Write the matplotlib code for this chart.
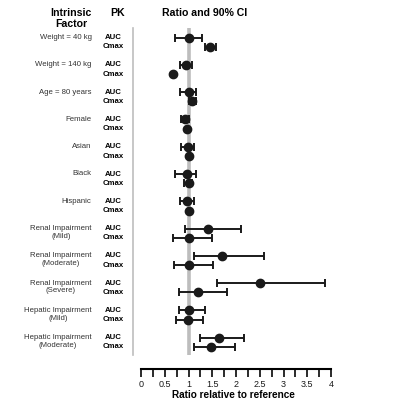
import matplotlib
matplotlib.use("Agg")
import matplotlib.pyplot as plt
from matplotlib.transforms import blended_transform_factory
import numpy as np

plt.rcParams['font.family'] = ['Liberation Sans', 'DejaVu Sans']

factors = ["Weight = 40 kg", "Weight = 140 kg", "Age = 80 years", "Female",
           "Asian", "Black", "Hispanic", "Renal Impairment\n(Mild)",
           "Renal Impairment\n(Moderate)", "Renal Impairment\n(Severe)",
           "Hepatic Impairment\n(Mild)", "Hepatic Impairment\n(Moderate)"]

auc_ratio = [1.00, 0.95, 1.00, 0.93, 0.98, 0.97, 0.97, 1.40, 1.71, 2.50, 1.02, 1.64]
auc_lo = [0.72, 0.83, 0.83, 0.84, 0.84, 0.72, 0.83, 0.93, 1.12, 1.60, 0.79, 1.25]
auc_hi = [1.29, 1.08, 1.16, 1.00, 1.12, 1.15, 1.11, 2.11, 2.58, 3.87, 1.35, 2.17]

cmax_ratio = [1.46, 0.67, 1.07, 0.97, 1.00, 1.00, 1.00, 1.00, 1.02, 1.19, 0.99, 1.48]
cmax_lo = [1.35, None, 1.01, None, None, 0.91, None, 0.67, 0.69, 0.79, 0.74, 1.11]
cmax_hi = [1.57, None, 1.16, None, None, 1.08, None, 1.49, 1.52, 1.82, 1.31, 1.97]

fig = plt.figure(figsize=(4.0, 4.05), dpi=100)
ax = fig.add_axes([0.33175, 0.0889, 0.50175, 0.842])
ax.set_xlim(-0.175, 4.05)
ax.set_ylim(12.15, -0.356)

off = 0.34
ypos_auc = np.arange(len(factors))
ypos_cmax = ypos_auc + off

# reference line at 1
ax.plot([1, 1], [-0.356, 11.64], color="#bdbdbd", lw=2.6, zorder=1, solid_capstyle="butt")

def draw(y, r, lo, hi):
    if lo is not None:
        ax.errorbar([r], [y], xerr=[[r - lo], [hi - r]], fmt="none",
                    ecolor="#1a1a1a", elinewidth=1.4, capsize=2.6, capthick=1.4, zorder=2)
    ax.plot([r], [y], "o", color="#1a1a1a", ms=6, zorder=3)

for i in range(len(factors)):
    draw(ypos_auc[i], auc_ratio[i], auc_lo[i], auc_hi[i])
    draw(ypos_cmax[i], cmax_ratio[i], cmax_lo[i], cmax_hi[i])

# spines
for s in ["top", "right"]:
    ax.spines[s].set_visible(False)
ax.spines["left"].set_bounds(11.64, -0.356)
ax.spines["left"].set_color("#bdbdbd")
ax.spines["left"].set_linewidth(1.2)
ax.spines["bottom"].set_bounds(0, 4)
ax.spines["bottom"].set_linewidth(1.5)
ax.set_yticks([])
ax.set_xticks(np.arange(0, 4.01, 0.5))
ax.set_xticklabels(["0", "0.5", "1", "1.5", "2", "2.5", "3", "3.5", "4"])
ax.set_xticks(np.arange(0, 4.01, 0.25), minor=True)
ax.tick_params(axis="x", which="both", length=6, width=1.3, direction="out",
               labelsize=6.5, colors="#1a1a1a", pad=2)
ax.set_xlabel("Ratio relative to reference", fontsize=7.2, fontweight="bold", labelpad=1)

tr = blended_transform_factory(fig.transFigure, ax.transData)
for i, name in enumerate(factors):
    ax.text(0.229, ypos_auc[i] - 0.13, name, transform=tr, ha="right", va="top",
            multialignment="center", fontsize=5.6, color="#333333", linespacing=1.15)
    ax.text(0.283, ypos_auc[i], "AUC", transform=tr, ha="center", va="center",
            fontsize=5.6, fontweight="bold")
    ax.text(0.283, ypos_cmax[i], "Cmax", transform=tr, ha="center", va="center",
            fontsize=5.6, fontweight="bold")

fig.text(71 / 400, 1 - 18.5 / 405, "Intrinsic\nFactor", ha="center", va="center",
         fontsize=7.6, fontweight="bold", linespacing=1.1)
fig.text(118 / 400, 1 - 13.3 / 405, "PK", ha="center", va="center",
         fontsize=7.6, fontweight="bold")
fig.text(205 / 400, 1 - 13.3 / 405, "Ratio and 90% CI", ha="center", va="center",
         fontsize=7.6, fontweight="bold")

fig.savefig("out.png", dpi=100)
